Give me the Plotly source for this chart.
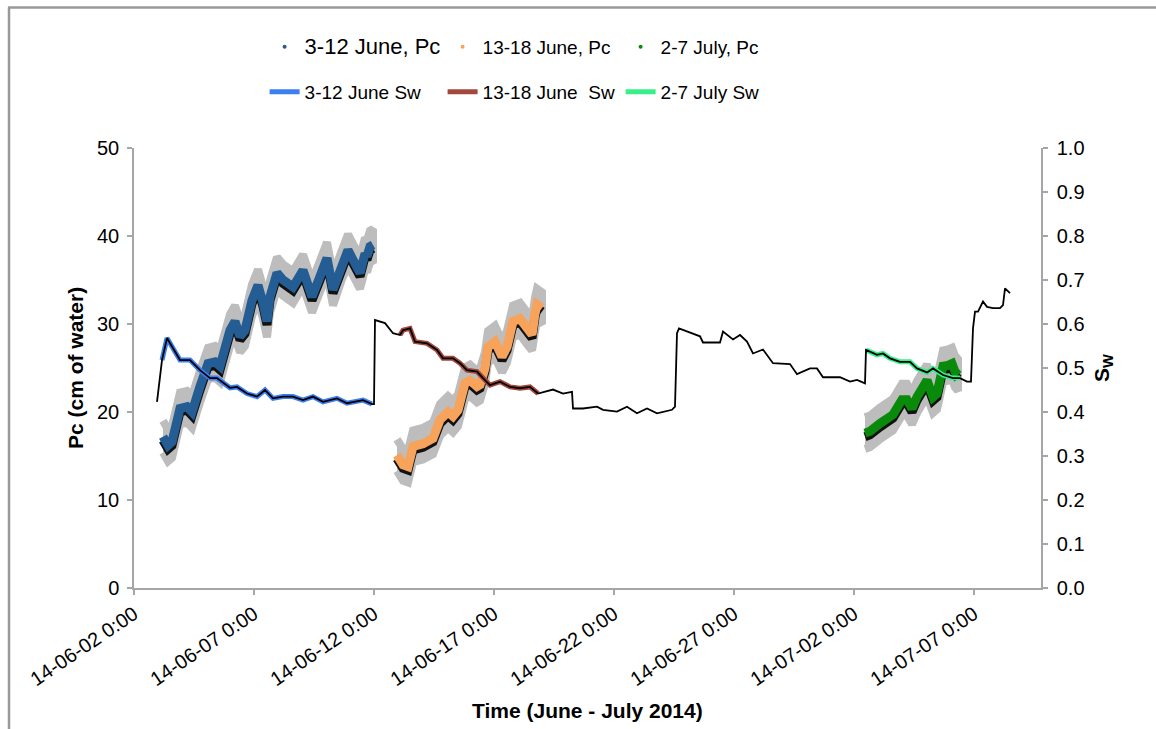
import plotly.graph_objects as go
import pandas as pd

# ---------------- data ----------------
# 3-12 June, Pc
t_pc1 = ["2014-06-03 05:00", "2014-06-03 10:00", "2014-06-03 14:00", "2014-06-03 22:00",
         "2014-06-04 05:00", "2014-06-04 10:00", "2014-06-04 18:00", "2014-06-05 02:00",
         "2014-06-05 09:00", "2014-06-05 14:00", "2014-06-06 00:00", "2014-06-06 05:00",
         "2014-06-06 10:00", "2014-06-06 15:00", "2014-06-06 22:00", "2014-06-07 04:00",
         "2014-06-07 09:00", "2014-06-07 13:00", "2014-06-07 16:00", "2014-06-07 23:00",
         "2014-06-08 05:00", "2014-06-08 15:00", "2014-06-09 01:00", "2014-06-09 10:00",
         "2014-06-09 18:00", "2014-06-10 01:00", "2014-06-10 07:00", "2014-06-10 16:00",
         "2014-06-10 22:00", "2014-06-11 03:00", "2014-06-11 10:00", "2014-06-11 15:00",
         "2014-06-11 17:00", "2014-06-11 20:00", "2014-06-11 23:00"]
pc1 = [17.2, 16.2, 16.6, 20.4, 20.6, 20.0, 22.9, 25.5, 25.7, 25.2, 29.3, 30.3, 28.6, 29.3,
       32.7, 34.4, 32.4, 30.3, 33.1, 35.8, 35.0, 34.2, 36.1, 33.1, 35.4, 37.5, 33.9, 36.9,
       38.4, 37.3, 35.8, 38.0, 37.7, 38.8, 39.0]

# 13-18 June, Pc
t_pc2 = ["2014-06-12 23:00", "2014-06-13 05:00", "2014-06-13 10:00", "2014-06-13 15:00",
         "2014-06-14 01:00", "2014-06-14 11:00", "2014-06-14 18:00", "2014-06-15 02:00",
         "2014-06-15 07:00", "2014-06-15 12:00", "2014-06-15 19:00", "2014-06-16 00:00",
         "2014-06-16 07:00", "2014-06-16 10:00", "2014-06-16 15:00", "2014-06-16 18:00",
         "2014-06-17 01:00", "2014-06-17 08:00", "2014-06-17 13:00", "2014-06-17 19:00",
         "2014-06-18 02:00", "2014-06-18 09:00", "2014-06-18 14:00", "2014-06-18 17:00",
         "2014-06-18 19:00", "2014-06-19 00:00"]
pc2 = [15.1, 14.0, 13.8, 16.1, 16.4, 17.0, 19.1, 20.0, 19.5, 20.2, 23.3, 23.6, 22.9, 23.1,
       25.0, 27.4, 28.0, 26.3, 27.4, 30.3, 30.6, 29.5, 28.8, 31.2, 32.2, 31.8]

# 2-7 July, Pc
t_pc3 = ["2014-07-02 11:00", "2014-07-02 16:00", "2014-07-03 02:00", "2014-07-03 09:00",
         "2014-07-03 15:00", "2014-07-04 00:00", "2014-07-04 05:00", "2014-07-04 10:00",
         "2014-07-04 15:00", "2014-07-05 01:00", "2014-07-05 07:00", "2014-07-05 11:00",
         "2014-07-05 14:00", "2014-07-05 17:00", "2014-07-05 22:00", "2014-07-06 02:00",
         "2014-07-06 05:00", "2014-07-06 08:00"]
pc3 = [17.6, 17.8, 18.7, 19.3, 19.7, 21.4, 21.4, 20.4, 21.7, 23.6, 21.7, 22.1, 23.6, 25.2,
       25.3, 25.5, 24.6, 24.2]

# Sw, full record (black line)
t_sw = ["2014-06-02 23:00", "2014-06-03 04:00", "2014-06-03 09:00", "2014-06-03 17:00",
        "2014-06-03 22:00", "2014-06-04 08:00", "2014-06-04 18:00", "2014-06-05 04:00",
        "2014-06-05 11:00", "2014-06-06 00:00", "2014-06-06 07:00", "2014-06-06 17:00",
        "2014-06-07 03:00", "2014-06-07 11:00", "2014-06-07 19:00", "2014-06-08 05:00",
        "2014-06-08 15:00", "2014-06-09 01:00", "2014-06-09 11:00", "2014-06-09 21:00",
        "2014-06-10 11:00", "2014-06-10 21:00", "2014-06-11 13:00", "2014-06-11 22:00",
        "2014-06-12 00:00", "2014-06-12 01:00", "2014-06-12 11:00", "2014-06-12 19:00",
        "2014-06-13 02:00", "2014-06-13 05:00", "2014-06-13 12:00", "2014-06-13 17:00",
        "2014-06-14 05:00", "2014-06-14 15:00", "2014-06-14 21:00", "2014-06-15 07:00",
        "2014-06-15 14:00", "2014-06-15 21:00", "2014-06-16 07:00", "2014-06-16 13:00",
        "2014-06-16 20:00", "2014-06-17 06:00", "2014-06-17 16:00", "2014-06-18 02:00",
        "2014-06-18 12:00", "2014-06-18 20:00", "2014-06-19 11:00", "2014-06-19 21:00",
        "2014-06-20 06:00", "2014-06-20 07:00", "2014-06-20 17:00", "2014-06-21 07:00",
        "2014-06-21 13:00", "2014-06-22 03:00", "2014-06-22 13:00", "2014-06-22 23:00",
        "2014-06-23 09:00", "2014-06-23 19:00", "2014-06-24 10:00", "2014-06-24 13:00",
        "2014-06-24 15:00", "2014-06-24 17:00", "2014-06-25 01:00", "2014-06-25 14:00",
        "2014-06-25 17:00", "2014-06-26 10:00", "2014-06-26 13:00", "2014-06-26 23:00",
        "2014-06-27 06:00", "2014-06-27 13:00", "2014-06-27 19:00", "2014-06-28 05:00",
        "2014-06-28 15:00", "2014-06-29 08:00", "2014-06-29 15:00", "2014-06-30 04:00",
        "2014-06-30 11:00", "2014-06-30 17:00", "2014-07-01 10:00", "2014-07-01 20:00",
        "2014-07-02 03:00", "2014-07-02 11:00", "2014-07-02 12:00", "2014-07-02 23:00",
        "2014-07-03 05:00", "2014-07-03 12:00", "2014-07-03 22:00", "2014-07-04 08:00",
        "2014-07-04 15:00", "2014-07-05 01:00", "2014-07-05 07:00", "2014-07-05 17:00",
        "2014-07-06 03:00", "2014-07-06 10:00", "2014-07-06 17:00", "2014-07-06 21:00",
        "2014-07-06 23:00", "2014-07-07 01:00", "2014-07-07 04:00", "2014-07-07 09:00",
        "2014-07-07 13:00", "2014-07-07 19:00", "2014-07-08 02:00", "2014-07-08 05:00",
        "2014-07-08 07:00", "2014-07-08 09:00", "2014-07-08 12:00"]
sw = [0.423, 0.518, 0.568, 0.537, 0.518, 0.518, 0.495, 0.477, 0.477, 0.455, 0.457, 0.442,
      0.435, 0.450, 0.431, 0.435, 0.435, 0.427, 0.435, 0.423, 0.431, 0.420, 0.427, 0.418,
      0.418, 0.609, 0.602, 0.579, 0.575, 0.586, 0.590, 0.560, 0.556, 0.541, 0.522, 0.522,
      0.511, 0.495, 0.492, 0.477, 0.461, 0.469, 0.457, 0.454, 0.457, 0.442, 0.451, 0.442,
      0.446, 0.408, 0.408, 0.412, 0.405, 0.401, 0.412, 0.397, 0.408, 0.397, 0.405, 0.412,
      0.579, 0.590, 0.583, 0.572, 0.558, 0.558, 0.583, 0.565, 0.575, 0.560, 0.533, 0.542,
      0.511, 0.509, 0.486, 0.499, 0.499, 0.479, 0.479, 0.469, 0.473, 0.465, 0.541, 0.530,
      0.533, 0.522, 0.514, 0.514, 0.499, 0.490, 0.499, 0.484, 0.477, 0.477, 0.469, 0.469,
      0.590, 0.628, 0.628, 0.651, 0.639, 0.636, 0.636, 0.643, 0.681, 0.676, 0.670]

# periods highlighted on the Sw record
sw_periods = [("2014-06-03 04:00", "2014-06-11 22:00"),
              ("2014-06-13 02:00", "2014-06-18 20:00"),
              ("2014-07-02 12:00", "2014-07-06 10:00")]

pc_names = ['<span style="font-size:22px">3-12 June, Pc</span>', "13-18 June, Pc", "2-7 July, Pc"]
sw_names = ["3-12 June Sw", "13-18 June\u00a0\u00a0Sw", "2-7 July Sw"]

x_ticks = ["2014-06-02", "2014-06-07", "2014-06-12", "2014-06-17", "2014-06-22",
           "2014-06-27", "2014-07-02", "2014-07-07"]
PC_ERR = 1.8  # half-height of the grey uncertainty band (cm)

# ---------------- styling ----------------
pc_colors = ["#245d93", "#f7a35c", "#0a8a0a"]
sw_colors = ["#3d7ff0", "#a3483d", "#38f08a"]
band_color = "#bdbdbd"
axis_color = "#a6a6a6"
FONT = "Liberation Sans, Arial, sans-serif"

# page body margin is removed by post_script, so the figure fills the window
W, H = 1156, 729
ML, MT, MR, MB = 134, 148, 115, 141
PW, PH = W - ML - MR, H - MT - MB


def px(xp):
    return (xp - ML) / PW


def py(yp):
    return (H - MB - yp) / PH


fig = go.Figure()

pc_sets = [(t_pc1, pc1), (t_pc2, pc2), (t_pc3, pc3)]

# grey bands
for t, p in pc_sets:
    up = [v + PC_ERR for v in p]
    lo = [v - PC_ERR for v in p]
    fig.add_trace(go.Scatter(x=t + t[::-1], y=up + lo[::-1], fill="toself",
                             fillcolor=band_color, mode="lines",
                             line=dict(color=band_color, width=8),
                             showlegend=False, hoverinfo="skip"))
# black shadows
for t, p in pc_sets:
    fig.add_trace(go.Scatter(x=t, y=[v - 0.4 for v in p], mode="lines",
                             line=dict(color="#111111", width=9),
                             showlegend=False, hoverinfo="skip"))
# coloured Pc
for (t, p), c in zip(pc_sets, pc_colors):
    fig.add_trace(go.Scatter(x=t, y=p, mode="lines", line=dict(color=c, width=9),
                             showlegend=False))

# coloured Sw segments
sw_df = pd.DataFrame({"t": pd.to_datetime(t_sw), "sw": sw})
for (a, b), c in zip(sw_periods, sw_colors):
    seg = sw_df[(sw_df.t >= pd.Timestamp(a)) & (sw_df.t <= pd.Timestamp(b))]
    fig.add_trace(go.Scatter(x=seg.t, y=seg.sw, yaxis="y2", mode="lines",
                             line=dict(color=c, width=5), showlegend=False))
# black Sw full record
fig.add_trace(go.Scatter(x=sw_df.t, y=sw_df.sw, yaxis="y2", mode="lines",
                         line=dict(color="black", width=1.8), showlegend=False))

# legend entries
for n, c in zip(pc_names, pc_colors):
    fig.add_trace(go.Scatter(x=[None], y=[None], mode="markers", name=n,
                             marker=dict(color=c, size=4), legend="legend"))
for n, c in zip(sw_names, sw_colors):
    fig.add_trace(go.Scatter(x=[None], y=[None], mode="lines", name=n,
                             line=dict(color=c, width=5), legend="legend2"))

tick_text = [pd.Timestamp(d).strftime("%y-%m-%d ") + "0:00" for d in x_ticks]

axis_common = dict(showline=True, linecolor=axis_color, linewidth=1.5, ticks="outside",
                   ticklen=5, tickwidth=1.5, tickcolor=axis_color, showgrid=False,
                   zeroline=False)

legend_common = dict(orientation="h", xanchor="left", yanchor="middle",
                     entrywidth=133, entrywidthmode="pixels",
                     font=dict(family=FONT, size=19, color="black"),
                     bgcolor="rgba(0,0,0,0)", itemclick=False, itemdoubleclick=False)

border = dict(color="#999999", width=2.5)

fig.update_layout(
    width=W, height=H,
    margin=dict(l=ML, r=MR, t=MT, b=MB, autoexpand=False),
    plot_bgcolor="white", paper_bgcolor="white",
    showlegend=True,
    xaxis=dict(type="date", range=["2014-06-02 00:00", "2014-07-09 19:00"],
               tickvals=x_ticks, ticktext=tick_text, tickangle=-34,
               tickfont=dict(family=FONT, size=20, color="black"), **axis_common),
    yaxis=dict(range=[0, 50], dtick=10, ticklabelstandoff=4,
               tickfont=dict(family=FONT, size=20, color="black"), **axis_common),
    yaxis2=dict(range=[0, 1], dtick=0.1, tickformat=".1f", overlaying="y", side="right",
                ticklabelstandoff=5,
                tickfont=dict(family=FONT, size=20, color="black"), **axis_common),
    legend=dict(x=0.144, y=py(47), **legend_common),
    legend2=dict(x=0.144, y=py(92), **legend_common),
    annotations=[
        dict(text="<b>Time (June - July 2014)</b>", xref="paper", yref="paper",
             x=0.5, y=py(710), showarrow=False,
             font=dict(family=FONT, size=21, color="black"),
             xanchor="center", yanchor="middle"),
        dict(text="<b>Pc (cm of water)</b>", xref="paper", yref="paper",
             x=px(75), y=0.5, showarrow=False, textangle=-90,
             font=dict(family=FONT, size=21, color="black"),
             xanchor="center", yanchor="middle"),
        dict(text="<b>S<sub>W</sub></b>", xref="paper", yref="paper",
             x=px(1103), y=0.5, showarrow=False, textangle=-90,
             font=dict(family=FONT, size=21, color="black"),
             xanchor="center", yanchor="middle"),
    ],
    shapes=[
        dict(type="line", xref="paper", yref="paper",
             x0=px(9), x1=px(9), y0=py(H), y1=py(7.5), line=border, layer="below"),
        dict(type="line", xref="paper", yref="paper",
             x0=px(8), x1=px(W), y0=py(7.5), y1=py(7.5), line=border, layer="below"),
    ],
)

fig.write_html("out.html",
               config={"displayModeBar": False},
               post_script="document.body.style.margin='0';"
                           "document.body.style.overflow='hidden';")
